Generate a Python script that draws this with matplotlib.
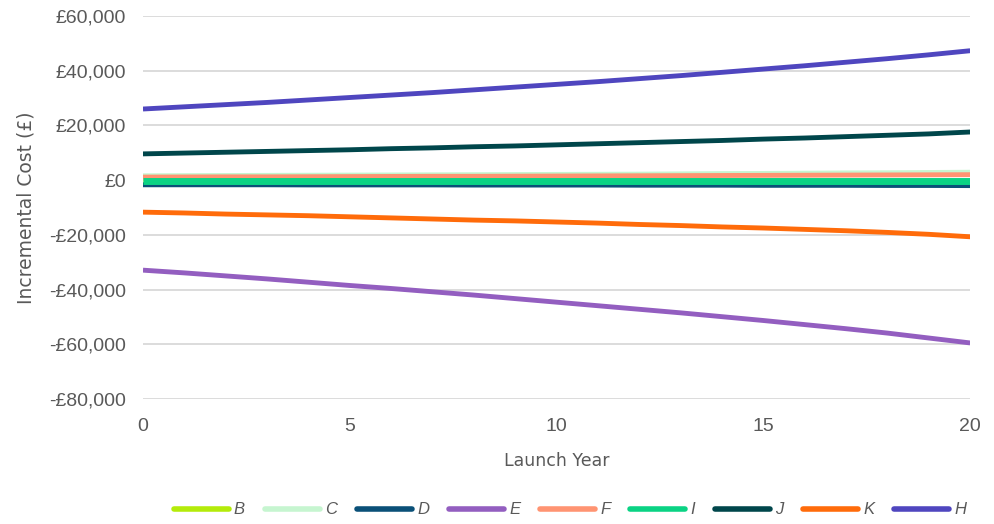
import matplotlib.pyplot as plt
from matplotlib.ticker import FuncFormatter

plt.rcParams['font.family'] = ['Liberation Sans', 'DejaVu Sans']

years = list(range(21))

# incremental cost per launch year (GBP)
cost_b = [-200, -200, -200, -200, -200, -200, -200, -200, -200, -200, -200,
          -200, -200, -200, -200, -200, -200, -200, -200, -200, -200]
cost_c = [1600, 1650, 1700, 1750, 1800, 1850, 1900, 1950, 2000, 2050, 2100,
          2150, 2200, 2300, 2400, 2450, 2550, 2650, 2700, 2800, 2900]
cost_d = [-1700, -1700, -1700, -1700, -1750, -1750, -1750, -1750, -1800, -1800, -1800,
          -1800, -1850, -1850, -1850, -1900, -1900, -1900, -1950, -1950, -2000]
cost_e = [-32900, -33900, -35000, -36100, -37300, -38500, -39600, -40800, -42000, -43300, -44600,
          -45900, -47200, -48500, -49900, -51300, -52800, -54300, -55900, -57700, -59500]
cost_f = [1100, 1150, 1200, 1200, 1250, 1300, 1350, 1400, 1400, 1450, 1500,
          1550, 1600, 1650, 1700, 1750, 1800, 1850, 1900, 1950, 2000]
cost_i = [-300, -300, -300, -300, -300, -300, -300, -300, -300, -300, -300,
          -300, -300, -300, -300, -300, -300, -300, -300, -300, -300]
cost_j = [9600, 9900, 10200, 10500, 10800, 11100, 11500, 11800, 12200, 12500, 12900,
          13300, 13700, 14100, 14500, 15000, 15400, 15900, 16400, 16900, 17600]
cost_k = [-11700, -12000, -12400, -12700, -13000, -13400, -13800, -14200, -14600, -14900, -15300,
          -15700, -16200, -16600, -17100, -17500, -18000, -18500, -19100, -19800, -20700]
cost_h = [26000, 26800, 27600, 28400, 29300, 30200, 31100, 32000, 33000, 34000, 35000,
          36000, 37100, 38200, 39400, 40600, 41800, 43100, 44400, 45800, 47300]

labels = ['B', 'C', 'D', 'E', 'F', 'I', 'J', 'K', 'H']
colors = ['#b4eb0a', '#c6f5d0', '#0a5078', '#935ec0', '#ff9472', '#0ad384', '#00464b', '#ff6b0a', '#4f46bf']
series = [cost_b, cost_c, cost_d, cost_e, cost_f, cost_i, cost_j, cost_k, cost_h]

fig = plt.figure(figsize=(9.95, 5.24), dpi=100)
ax = fig.add_axes([0.1437, 0.2385, 0.8313, 0.731])

grey = '#595959'
for vals, lab, col in zip(series, labels, colors):
    lw = 5 if lab == 'I' else 3.5
    ax.plot(years, vals, color=col, lw=lw, label=lab, solid_capstyle='butt')

ax.set_xlim(0, 20)
ax.set_ylim(-80000, 60000)
ax.set_xticks([0, 5, 10, 15, 20])
ax.set_yticks(range(-80000, 60001, 20000))


def money(v, pos):
    if v < 0:
        return '-£{:,.0f}'.format(-v)
    return '£{:,.0f}'.format(v)


ax.yaxis.set_major_formatter(FuncFormatter(money))
ax.grid(axis='y', color='#d9d9d9', lw=1.3)
ax.set_axisbelow(True)
for s in ax.spines.values():
    s.set_visible(False)
ax.tick_params(length=0, labelsize=14, labelcolor=grey)
ax.tick_params(axis='x', pad=14)
ax.tick_params(axis='y', pad=12)

ax.set_xlabel('Launch Year', fontsize=12.5, color=grey, labelpad=12,
              family=['DejaVu Sans'])
ax.set_ylabel('Incremental Cost (£)', fontsize=13.5, color=grey, labelpad=10,
              family=['DejaVu Sans'])

leg = fig.legend(loc='center', bbox_to_anchor=(0.573, 0.027), ncol=9, frameon=False,
                 handlelength=3.3, handletextpad=0.3, columnspacing=1.2,
                 prop={'size': 12, 'style': 'italic'})
for t in leg.get_texts():
    t.set_color(grey)
for h in leg.get_lines():
    h.set_linewidth(4)
    h.set_solid_capstyle('round')

fig.savefig('out.png', dpi=100)
